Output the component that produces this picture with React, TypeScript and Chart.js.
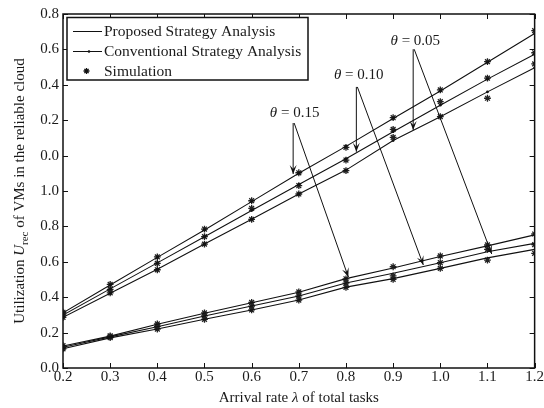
import React, { useEffect, useRef } from 'react';
import { Chart, registerables } from 'chart.js';
Chart.register(...registerables);

const arrivalRates = [0.2, 0.3, 0.4, 0.5, 0.6, 0.7, 0.8, 0.9, 1.0, 1.1, 1.2];
// y axis is drawn in a stacked (broken) layout: positions 0..2.0, labels as printed in the figure
const yTickLabels = ['0.0', '0.2', '0.4', '0.6', '0.8', '1.0', '0.0', '0.2', '0.4', '0.6', '0.8'];

// Conventional strategy analysis (upper group)
const conv015 = [0.312, 0.469, 0.625, 0.780, 0.940, 1.100, 1.252, 1.410, 1.565, 1.727, 1.890];
const conv010 = [0.299, 0.447, 0.594, 0.742, 0.890, 1.037, 1.182, 1.335, 1.485, 1.632, 1.772];
const conv005 = [0.286, 0.422, 0.558, 0.700, 0.840, 0.983, 1.118, 1.285, 1.420, 1.560, 1.696];
// Proposed strategy analysis (lower group)
const prop015 = [0.124, 0.180, 0.247, 0.309, 0.369, 0.428, 0.505, 0.565, 0.630, 0.690, 0.752];
const prop010 = [0.117, 0.176, 0.233, 0.294, 0.350, 0.407, 0.480, 0.535, 0.595, 0.657, 0.704];
const prop005 = [0.109, 0.170, 0.220, 0.275, 0.328, 0.384, 0.457, 0.505, 0.563, 0.622, 0.670];
// Simulation results
const simConv015 = [0.315, 0.472, 0.628, 0.785, 0.945, 1.103, 1.247, 1.414, 1.571, 1.731, 1.906];
const simConv010 = [0.300, 0.444, 0.591, 0.742, 0.902, 1.030, 1.175, 1.348, 1.505, 1.638, 1.781];
const simConv005 = [0.286, 0.425, 0.555, 0.700, 0.840, 0.983, 1.115, 1.303, 1.420, 1.524, 1.718];
const simProp015 = [0.126, 0.182, 0.249, 0.311, 0.371, 0.430, 0.504, 0.572, 0.633, 0.695, 0.757];
const simProp010 = [0.117, 0.177, 0.235, 0.294, 0.350, 0.407, 0.480, 0.520, 0.595, 0.670, 0.697];
const simProp005 = [0.108, 0.172, 0.220, 0.275, 0.328, 0.384, 0.456, 0.501, 0.563, 0.610, 0.648];

const legendLabels = ['Proposed Strategy Analysis', 'Conventional Strategy Analysis', 'Simulation'];

// theta annotations in data coordinates: label position, arrow origin, arrow tips
const thetaLabels = ['0.15', '0.10', '0.05'];
const thetaTextPos = [[0.6912, 1.441], [0.827, 1.653], [0.947, 1.847]];
const thetaArrowFrom = [[0.688, 1.384], [0.822, 1.588], [0.9425, 1.801]];
const thetaArrowTipUpper = [[0.688, 1.096], [0.822, 1.222], [0.9425, 1.345]];
const thetaArrowTipLower = [[0.805, 0.514], [0.964, 0.582], [1.109, 0.644]];

const FONT = "'Liberation Serif', 'Times New Roman', serif";
const INK = '#111';
const TEXT = '#1a1a1a';

const pts = (ys: number[]) => arrivalRates.map((x, i) => ({ x, y: ys[i] }));

function drawArrow(ctx: CanvasRenderingContext2D, x0: number, y0: number, x1: number, y1: number) {
  ctx.beginPath();
  ctx.moveTo(x0, y0);
  ctx.lineTo(x1, y1);
  ctx.stroke();
  const a = Math.atan2(y1 - y0, x1 - x0);
  const L = 9, W = 3.5, notch = 5;
  const bx = x1 - L * Math.cos(a), by = y1 - L * Math.sin(a);
  const nx = x1 - notch * Math.cos(a), ny = y1 - notch * Math.sin(a);
  ctx.beginPath();
  ctx.moveTo(x1, y1);
  ctx.lineTo(bx + W * Math.sin(a), by - W * Math.cos(a));
  ctx.lineTo(nx, ny);
  ctx.lineTo(bx - W * Math.sin(a), by + W * Math.cos(a));
  ctx.closePath();
  ctx.fill();
}

function drawStar(ctx: CanvasRenderingContext2D, x: number, y: number, r: number) {
  ctx.beginPath();
  for (let k = 0; k < 4; k++) {
    const a = (k * Math.PI) / 4;
    ctx.moveTo(x - r * Math.cos(a), y - r * Math.sin(a));
    ctx.lineTo(x + r * Math.cos(a), y + r * Math.sin(a));
  }
  ctx.stroke();
}

const decorPlugin = {
  id: 'decor',
  afterDraw(chart: any) {
    const { ctx, chartArea: ca, scales } = chart;
    const xs = scales.x, ys = scales.y;
    ctx.save();
    ctx.strokeStyle = INK;
    ctx.fillStyle = INK;
    // frame
    ctx.lineWidth = 1.5;
    ctx.strokeRect(ca.left, ca.top, ca.right - ca.left, ca.bottom - ca.top);
    // inward ticks
    ctx.lineWidth = 1;
    ctx.beginPath();
    arrivalRates.forEach((v) => {
      const px = Math.round(xs.getPixelForValue(v)) + 0.5;
      ctx.moveTo(px, ca.bottom);
      ctx.lineTo(px, ca.bottom - 5);
      ctx.moveTo(px, ca.top);
      ctx.lineTo(px, ca.top + 5);
    });
    yTickLabels.forEach((_, i) => {
      const py = Math.round(ys.getPixelForValue(i * 0.2)) + 0.5;
      ctx.moveTo(ca.left, py);
      ctx.lineTo(ca.left + 5, py);
      ctx.moveTo(ca.right, py);
      ctx.lineTo(ca.right - 5, py);
    });
    ctx.stroke();

    // theta annotations
    ctx.lineWidth = 1;
    thetaLabels.forEach((lab, i) => {
      const fx = xs.getPixelForValue(thetaArrowFrom[i][0]);
      const fy = ys.getPixelForValue(thetaArrowFrom[i][1]);
      ctx.fillStyle = INK;
      drawArrow(ctx, fx, fy, xs.getPixelForValue(thetaArrowTipUpper[i][0]), ys.getPixelForValue(thetaArrowTipUpper[i][1]));
      drawArrow(ctx, fx + 1, fy, xs.getPixelForValue(thetaArrowTipLower[i][0]), ys.getPixelForValue(thetaArrowTipLower[i][1]));
      const tx = xs.getPixelForValue(thetaTextPos[i][0]);
      const ty = ys.getPixelForValue(thetaTextPos[i][1]);
      ctx.fillStyle = TEXT;
      ctx.font = `italic 15px ${FONT}`;
      const w1 = ctx.measureText('θ').width;
      ctx.font = `15px ${FONT}`;
      const rest = ' = ' + lab;
      const w2 = ctx.measureText(rest).width;
      const sx = tx - (w1 + w2) / 2;
      ctx.textBaseline = 'middle';
      ctx.textAlign = 'left';
      ctx.font = `italic 15px ${FONT}`;
      ctx.fillText('θ', sx, ty);
      ctx.font = `15px ${FONT}`;
      ctx.fillText(rest, sx + w1, ty);
    });

    // legend
    const lx = ca.left + 4, ly = ca.top + 3.5, lw = 241, lh = 62.5;
    ctx.fillStyle = '#fff';
    ctx.fillRect(lx, ly, lw, lh);
    ctx.lineWidth = 1.5;
    ctx.strokeStyle = INK;
    ctx.strokeRect(lx, ly, lw, lh);
    ctx.fillStyle = INK;
    ctx.lineWidth = 1;
    ctx.font = `15.5px ${FONT}`;
    ctx.textBaseline = 'middle';
    ctx.textAlign = 'left';
    legendLabels.forEach((lab, i) => {
      const rowY = ly + 13.5 + i * 20;
      ctx.fillStyle = INK;
      if (i < 2) {
        ctx.beginPath();
        ctx.moveTo(lx + 6, rowY + 0.5);
        ctx.lineTo(lx + 35, rowY + 0.5);
        ctx.stroke();
        if (i === 1) {
          ctx.beginPath();
          ctx.arc(lx + 22, rowY + 0.5, 1.3, 0, Math.PI * 2);
          ctx.fill();
        }
      } else {
        ctx.lineWidth = 1.3;
        drawStar(ctx, lx + 19.5, rowY, 3);
        ctx.lineWidth = 1;
      }
      ctx.fillStyle = TEXT;
      ctx.fillText(lab, lx + 37, rowY + 1);
    });

    // x axis title
    ctx.fillStyle = TEXT;
    ctx.font = `15px ${FONT}`;
    const p1 = 'Arrival rate ', p3 = ' of total tasks';
    const w1 = ctx.measureText(p1).width, w3 = ctx.measureText(p3).width;
    ctx.font = `italic 15px ${FONT}`;
    const w2 = ctx.measureText('λ').width;
    const sx = (ca.left + ca.right) / 2 - (w1 + w2 + w3) / 2;
    const ty = ca.bottom + 30;
    ctx.textBaseline = 'middle';
    ctx.font = `15px ${FONT}`;
    ctx.fillText(p1, sx, ty);
    ctx.font = `italic 15px ${FONT}`;
    ctx.fillText('λ', sx + w1, ty);
    ctx.font = `15px ${FONT}`;
    ctx.fillText(p3, sx + w1 + w2, ty);

    // y axis title (rotated)
    ctx.translate(20, (ca.top + ca.bottom) / 2);
    ctx.rotate(-Math.PI / 2);
    const a1 = 'Utilization ', a4 = ' of VMs in the reliable cloud';
    ctx.font = `15px ${FONT}`;
    const q1 = ctx.measureText(a1).width, q4 = ctx.measureText(a4).width;
    ctx.font = `italic 15px ${FONT}`;
    const q2 = ctx.measureText('U').width;
    ctx.font = `11px ${FONT}`;
    const q3 = ctx.measureText('rec').width;
    let cx = -(q1 + q2 + q3 + q4) / 2;
    ctx.font = `15px ${FONT}`;
    ctx.fillText(a1, cx, 0);
    cx += q1;
    ctx.font = `italic 15px ${FONT}`;
    ctx.fillText('U', cx, 0);
    cx += q2;
    ctx.font = `11px ${FONT}`;
    ctx.fillText('rec', cx, 5);
    cx += q3;
    ctx.font = `15px ${FONT}`;
    ctx.fillText(a4, cx, 0);
    ctx.restore();
  },
};

export default function App() {
  const ref = useRef<HTMLCanvasElement>(null);
  useEffect(() => {
    document.body.style.margin = '0';
    const ctx = ref.current!.getContext('2d')!;
    const lineDs = (ys: number[], dots: boolean) => ({
      data: pts(ys),
      showLine: true,
      borderColor: INK,
      backgroundColor: INK,
      borderWidth: 1.1,
      pointRadius: dots ? 1.4 : 0,
      pointStyle: 'circle',
      pointBorderWidth: 0,
      order: 1,
    });
    const simDs = (ys: number[]) => ({
      data: pts(ys),
      showLine: false,
      borderColor: '#222',
      backgroundColor: '#222',
      pointStyle: 'star',
      pointRadius: 3.4,
      pointBorderWidth: 1.3,
      order: 2,
    });
    const chart = new Chart(ctx, {
      type: 'scatter',
      data: {
        datasets: [
          lineDs(prop015, false), lineDs(prop010, false), lineDs(prop005, false),
          lineDs(conv015, true), lineDs(conv010, true), lineDs(conv005, true),
          simDs(simProp015), simDs(simProp010), simDs(simProp005),
          simDs(simConv015), simDs(simConv010), simDs(simConv005),
        ],
      },
      options: {
        animation: false,
        responsive: false,
        devicePixelRatio: 1,
        layout: { padding: { top: 14, right: 6, left: 0, bottom: 0 } },
        plugins: { legend: { display: false }, tooltip: { enabled: false } },
        scales: {
          x: {
            type: 'linear',
            min: 0.2,
            max: 1.2,
            grid: { display: false, drawTicks: false },
            border: { display: false },
            afterFit: (s: any) => { s.height = 40; },
            ticks: {
              stepSize: 0.1,
              padding: 0,
              color: TEXT,
              font: { family: FONT, size: 15 },
              maxRotation: 0,
              autoSkip: false,
              callback: (v: any) => Number(v).toFixed(1),
            },
          },
          y: {
            type: 'linear',
            min: 0,
            max: 2.0,
            grid: { display: false, drawTicks: false },
            border: { display: false },
            afterFit: (s: any) => { s.width = 63; },
            ticks: {
              stepSize: 0.2,
              padding: 4,
              color: TEXT,
              font: { family: FONT, size: 15 },
              autoSkip: false,
              callback: (_v: any, i: number) => yTickLabels[i],
            },
          },
        },
      },
      plugins: [decorPlugin],
    });
    return () => chart.destroy();
  }, []);
  return <canvas ref={ref} width={544} height={408} style={{ display: 'block' }} />;
}
